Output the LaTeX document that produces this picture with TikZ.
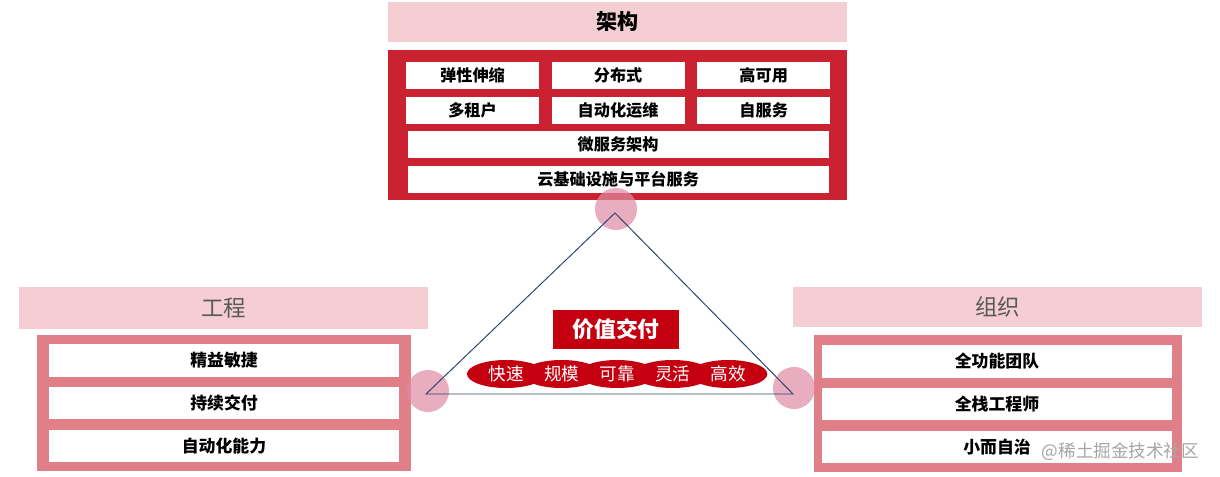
\documentclass[tikz,border=0pt]{standalone}
\usepackage{fontspec}
\setmainfont{Noto Sans CJK SC}
\usetikzlibrary{positioning, shapes.geometric}

\definecolor{headpink}{HTML}{F5CED4}
\definecolor{archred}{HTML}{CB2231}
\definecolor{lowpink}{HTML}{E17F88}
\definecolor{valred}{HTML}{C40010}
\definecolor{dotpink}{HTML}{DE8AA2}
\definecolor{triline}{HTML}{2F4470}
\definecolor{headgray}{HTML}{595959}

\begin{document}
\begin{tikzpicture}[
    x=0.025cm, y=-0.025cm,
    node distance=0.175cm,
    headband/.style={
        rectangle,
        fill=headpink,
        inner sep=0pt,
        minimum height=1.02cm
    },
    frame/.style={
        rectangle,
        inner sep=0pt
    },
    tile/.style={
        rectangle,
        fill=white,
        inner sep=0pt,
        minimum width=3.325cm,
        minimum height=0.675cm,
        font=\bfseries\fontsize{11.5pt}{12pt}\selectfont
    },
    widetile/.style={tile, minimum width=10.525cm},
    lowtile/.style={tile, minimum width=8.75cm, minimum height=0.8cm,
        font=\bfseries\fontsize{12pt}{13pt}\selectfont},
    dot/.style={
        circle,
        fill=dotpink,
        fill opacity=0.7,
        minimum size=1.05cm,
        inner sep=0pt
    },
    pill/.style={
        ellipse,
        fill=valred,
        text=white,
        minimum width=1.95cm,
        minimum height=0.7cm,
        inner sep=0pt,
        font=\fontsize{12.5pt}{13pt}\selectfont
    }
]
\useasboundingbox (0,0) rectangle (1220,477);

% Architecture
\node (archframe) [frame, fill=archred, minimum width=11.475cm, minimum height=3.75cm] at (617.5,125) {};
\node (archhead) [headband, minimum width=11.45cm, above=0.175cm of archframe,
    font=\bfseries\fontsize{15pt}{16pt}\selectfont] {架构};
\node (elastic) [tile] at (472.5,75.5) {弹性伸缩};
\node (distrib) [tile, right=0.3cm of elastic] {分布式};
\node (avail) [tile, right=0.3cm of distrib] {高可用};
\node (tenant) [tile, below=of elastic] {多租户};
\node (autoops) [tile, below=of distrib] {自动化运维};
\node (selfserv) [tile, below=of avail] {自服务};
\node (micro) [widetile, below=of autoops] {微服务架构};
\node (cloud) [widetile, below=of micro] {云基础设施与平台服务};

% Engineering
\node (enghead) [headband, minimum width=10.225cm, minimum height=1.05cm,
    text=headgray, font=\fontsize{16pt}{17pt}\selectfont] at (223.5,308) {工程};
\node (engframe) [frame, fill=lowpink, minimum width=9.35cm, minimum height=3.4cm] at (224,403) {};
\node (lean) [lowtile] at (224,360.5) {精益敏捷};
\node (cd) [lowtile, below=0.25cm of lean] {持续交付};
\node (autocap) [lowtile, below=0.25cm of cd] {自动化能力};

% Organization
\node (orghead) [headband, minimum width=10.225cm,
    text=headgray, font=\fontsize{16pt}{17pt}\selectfont] at (997.5,307) {组织};
\node (orgframe) [frame, fill=lowpink, minimum width=9.2cm, minimum height=3.425cm] at (998,403.5) {};
\node (fullteam) [lowtile] at (997,361.5) {全功能团队};
\node (fullstack) [lowtile, below=0.25cm of fullteam] {全栈工程师};
\node (autonomy) [lowtile, below=0.25cm of fullstack] {小而自治};

% Corner dots
\node (topdot) [dot] at (616,209) {};
\node (leftdot) [dot] at (428,391) {};
\node (rightdot) [dot] at (794,388) {};

% Triangle
\coordinate (apex) at (615,213);
\coordinate (lcorner) at (426,394);
\coordinate (rcorner) at (793,394);
\draw [triline, line width=0.7pt] (apex) -- (lcorner) -- (rcorner) -- cycle;

% Value delivery
\node (value) [rectangle, fill=valred, text=white, inner sep=0pt,
    minimum width=3.15cm, minimum height=0.975cm,
    font=\bfseries\fontsize{15.5pt}{16pt}\selectfont] at (616,329.5) {价值交付};
\node (fast) [pill] at (506,374) {快速};
\node (scale) [pill, right=-0.575cm of fast] {规模};
\node (reliable) [pill, right=-0.575cm of scale] {可靠};
\node (agile) [pill, right=-0.575cm of reliable] {灵活};
\node (efficient) [pill, right=-0.575cm of agile] {高效};

% Watermark
\node (mark) [text=black!35, font=\fontsize{12.5pt}{13pt}\selectfont, anchor=east] at (1204,452) {@稀土掘金技术社区};

\end{tikzpicture}
\end{document}
